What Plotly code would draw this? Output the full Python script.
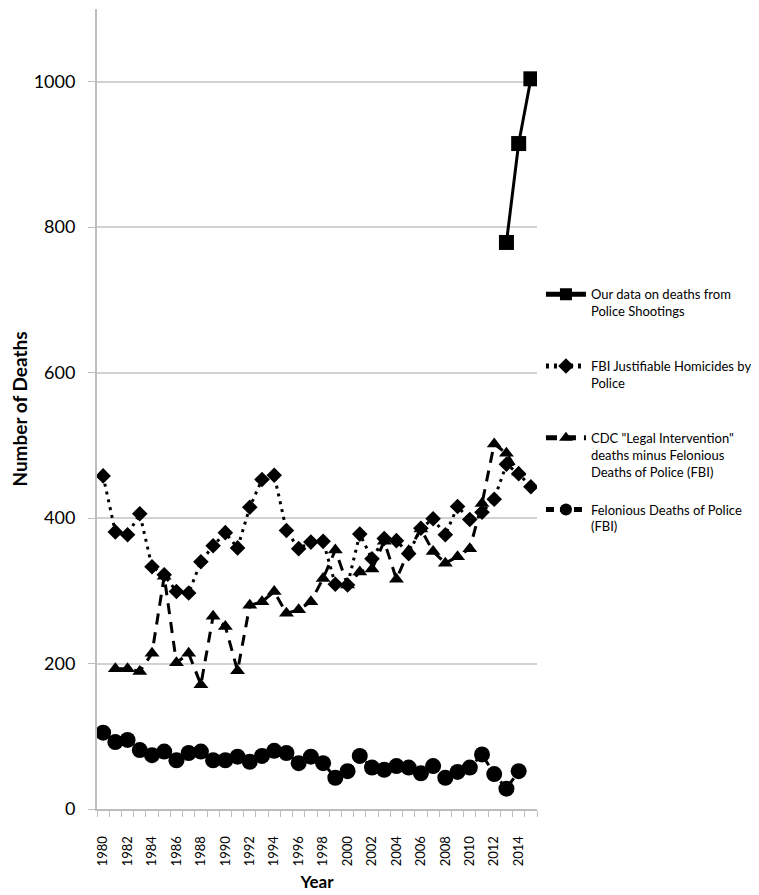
import plotly.graph_objects as go

# ---------------- data ----------------
years = list(range(1980, 2016))

our_data = [None] * 33 + [779, 915, 1004]

fbi_justifiable = [458, 381, 377, 406, 333, 322, 299, 297, 340, 362,
                   380, 359, 415, 453, 459, 383, 358, 367, 368, 309,
                   308, 378, 344, 372, 369, 351, 386, 399, 377, 416,
                   398, 408, 426, 474, 461, 443]

cdc_legal_minus_felonious = [None, 193, 193, 189, 214, 320, 201, 214, 171, 265,
                             251, 190, 280, 285, 299, 269, 274, 285, 317, 356,
                             308, 326, 330, 368, 316, 355, 385, 354, 338, 347,
                             358, 420, 502, 489, 463, None]

felonious_police = [105, 92, 95, 81, 74, 79, 67, 77, 79, 67,
                    67, 72, 65, 73, 80, 77, 63, 72, 63, 43,
                    52, 73, 57, 54, 59, 57, 49, 59, 43, 51,
                    57, 75, 48, 28, 52, None]

x_tick_years = list(range(1980, 2015, 2))
x_tick_labels = [str(y) for y in x_tick_years]
y_ticks = [0, 200, 400, 600, 800, 1000]

names = [
    "Our data on deaths from<br>Police Shootings<br> ",
    "FBI Justifiable Homicides by<br>Police<br> ",
    'CDC "Legal Intervention"<br>deaths minus Felonious<br>Deaths of Police (FBI)',
    "Felonious Deaths of Police<br>(FBI)",
]

FONT = "Lato, 'Open Sans', sans-serif"
GRID = "#d2d2d2"
AXIS = "#bdbdbd"

fig = go.Figure()

fig.add_trace(go.Scatter(
    x=years, y=our_data, name=names[0], mode="lines+markers",
    line=dict(color="black", width=3),
    marker=dict(symbol="square", size=15, color="black"),
    legendgroup="a", connectgaps=False,
))
fig.add_trace(go.Scatter(
    x=years, y=fbi_justifiable, name=names[1], mode="lines+markers",
    line=dict(color="black", width=3, dash="3px,5px"),
    marker=dict(symbol="diamond", size=12, color="black"),
    legendgroup="b",
))
fig.add_trace(go.Scatter(
    x=years, y=cdc_legal_minus_felonious, name=names[2], mode="lines+markers",
    line=dict(color="black", width=3, dash="11px,8px"),
    marker=dict(symbol="triangle-up", size=13, color="black"),
    legendgroup="c",
))
fig.add_trace(go.Scatter(
    x=years, y=felonious_police, name=names[3], mode="lines+markers",
    line=dict(color="black", width=3, dash="8px,6px"),
    marker=dict(symbol="circle", size=16, color="black"),
    legendgroup="d",
))

fig.update_layout(
    width=751, height=887,
    margin=dict(l=89, r=222, t=1, b=86, autoexpand=False),
    paper_bgcolor="white", plot_bgcolor="white",
    font=dict(family=FONT, color="black"),
    showlegend=True,
    legend=dict(
        x=1.009, xanchor="left", y=0.662, yanchor="top",
        font=dict(family=FONT, size=13, color="black"),
        itemwidth=40, valign="top", tracegroupgap=18,
        itemsizing="constant",
        bgcolor="rgba(0,0,0,0)",
    ),
    xaxis=dict(
        range=[1979.5, 2015.5],
        tickmode="array", tickvals=x_tick_years, ticktext=x_tick_labels,
        tickangle=-90, ticks="", ticklabelstandoff=20,
        tickfont=dict(family=FONT, size=13, color="black"),
        showgrid=False, zeroline=False,
        showline=True, linecolor=AXIS, linewidth=2,
        minor=dict(ticks="outside", tick0=1979.5, dtick=1, ticklen=6,
                   tickcolor=AXIS, tickwidth=1, showgrid=False),
        title=dict(text="<b>Year</b>", font=dict(family=FONT, size=17, color="black"),
                   standoff=11),
    ),
    yaxis=dict(
        range=[0, 1100],
        tickmode="array", tickvals=y_ticks,
        ticks="outside", ticklen=7, tickcolor=AXIS, tickwidth=1,
        ticklabelstandoff=9,
        tickfont=dict(family=FONT, size=18, color="black"),
        showgrid=True, gridcolor=GRID, gridwidth=2,
        zeroline=False,
        showline=True, linecolor=AXIS, linewidth=2,
        title=dict(text="<b>Number of Deaths</b>",
                   font=dict(family=FONT, size=19, color="black"), standoff=6),
    ),
)

fig.write_html("out.html")
